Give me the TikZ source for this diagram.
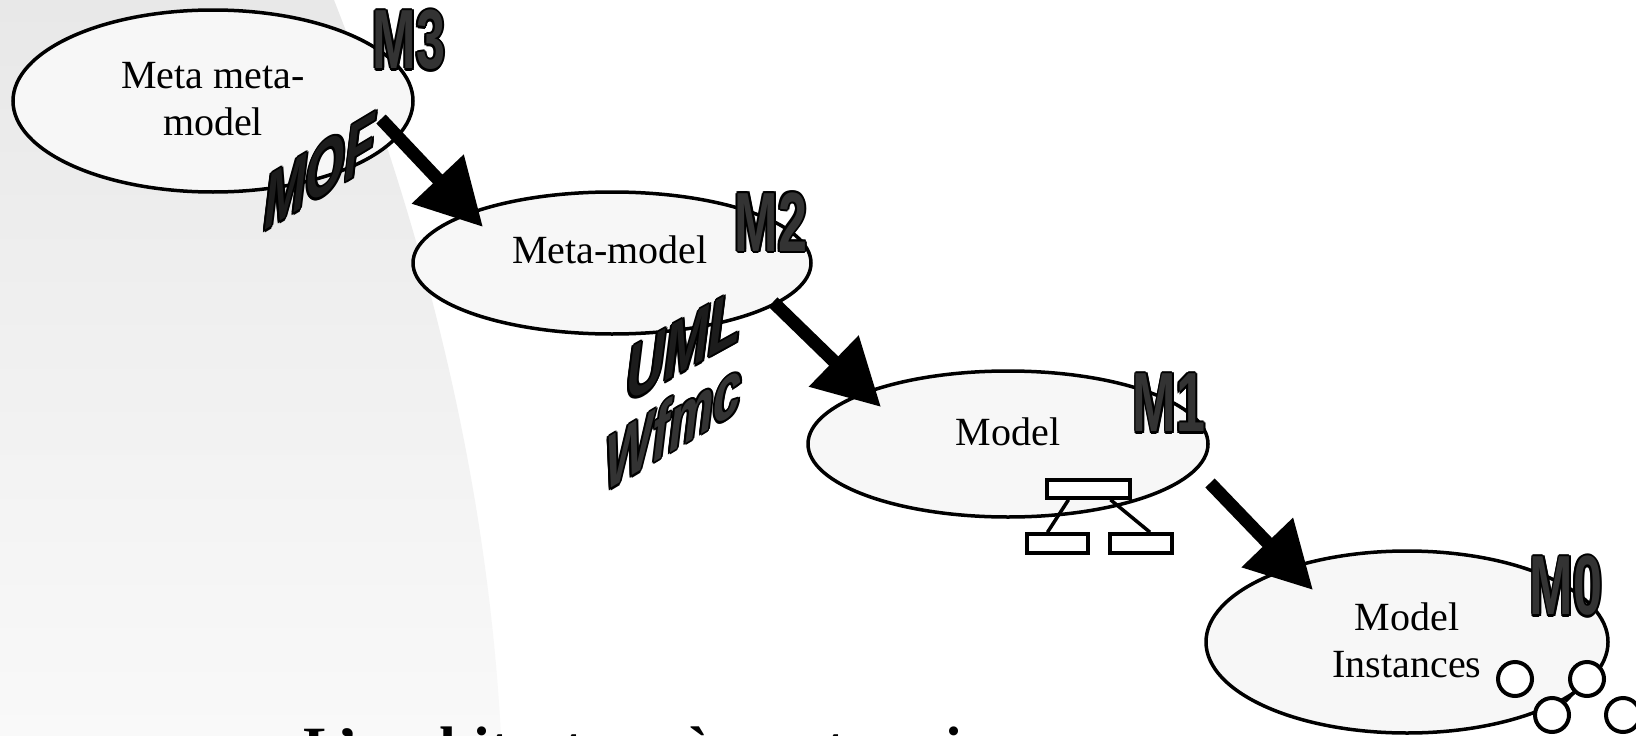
\documentclass[tikz,border=0pt]{standalone}
\usepackage{fontspec}
\setmainfont{Liberation Serif}
\newfontfamily\labelsans{Liberation Sans}
\usetikzlibrary{shapes.geometric,arrows.meta,calc}

\definecolor{ellfill}{HTML}{F7F7F7}
\definecolor{bgtop}{HTML}{E8E8E8}
\definecolor{bgbottom}{HTML}{F9F9F9}
\definecolor{markfill}{HTML}{333333}
\definecolor{darkfill}{HTML}{1C1C1C}

% one shifted copy of a word, taking no width
\newcommand\olay[3]{\makebox[0pt][l]{\hspace*{#1}\raisebox{#2}{#3}}}
% word with a black outline and a coloured body
\newcommand\outlinedword[2]{%
  {\color{black}%
   \olay{3pt}{0pt}{#2}\olay{-3pt}{0pt}{#2}%
   \olay{0pt}{2.2pt}{#2}\olay{0pt}{-2.2pt}{#2}%
   \olay{2.1pt}{1.6pt}{#2}\olay{-2.1pt}{1.6pt}{#2}%
   \olay{2.1pt}{-1.6pt}{#2}\olay{-2.1pt}{-1.6pt}{#2}}%
  \textcolor{#1}{#2}}

\tikzset{
  level/.style={ellipse, draw=black, line width=3.5pt, fill=ellfill, inner sep=0pt},
  caption/.style={font=\fontsize{40}{47}\selectfont, anchor=base, inner sep=0pt},
  levelmark/.style={font=\labelsans\bfseries\fontsize{84}{84}\selectfont, inner sep=0pt, xscale=0.62},
  stdname/.style={font=\labelsans\bfseries\itshape\fontsize{76}{76}\selectfont, inner sep=0pt, anchor=base west},
  bigarrow/.style={line width=13pt, -{Triangle[length=66pt,width=68pt]}},
  classbox/.style={draw, line width=3.5pt, fill=white, inner sep=0pt},
  instance/.style={circle, draw, line width=4pt, fill=white, minimum size=34pt, inner sep=0pt},
  link/.style={line width=3.5pt},
}

\begin{document}
\begin{tikzpicture}[x=1pt, y=-1pt]
  \useasboundingbox (0,0) rectangle (1636,736);
  \clip (0,0) rectangle (1636,736);
  \fill[white] (0,0) rectangle (1636,736);

  % shaded backdrop on the left
  \shade[top color=bgtop, bottom color=bgbottom]
    (0,0) -- (334,0) .. controls (430,245) and (488,491) .. (501,736) -- (0,736) -- cycle;

  % the four levels
  \node[level, minimum width=400pt, minimum height=182pt] (e3) at (213,101) {};
  \node[level, minimum width=398pt, minimum height=142pt] (e2) at (612,263) {};
  \node[level, minimum width=400pt, minimum height=146pt] (e1) at (1008,444) {};
  \node[level, minimum width=402pt, minimum height=182pt] (e0) at (1407,642) {};

  \node[caption] (t3a) at ($(e3.center)+(0,-13)$) {Meta meta-};
  \node[caption] (t3b) at ($(e3.center)+(0,34)$) {model};
  \node[caption] (t2) at ($(e2.center)+(-2,0)$) {Meta-model};
  \node[caption] (t1) at ($(e1.center)+(0,1)$) {Model};
  \node[caption] (t0a) at ($(e0.center)+(0,-12)$) {Model};
  \node[caption] (t0b) at ($(e0.center)+(0,35)$) {Instances};

  % small class diagram inside the model level
  \node[classbox, minimum width=83pt, minimum height=18pt] (ctop) at (1088.5,489) {};
  \node[classbox, minimum width=61pt, minimum height=19pt] (cleft) at (1057.5,543.5) {};
  \node[classbox, minimum width=62pt, minimum height=19pt] (cright) at (1141,543.5) {};
  \draw[link] ($(ctop.south)+(-20,0)$) -- ($(cleft.north)+(-10,0)$);
  \draw[link] ($(ctop.south)+(22,0)$) -- ($(cright.north)+(9,0)$);

  % instances
  \node[instance] (o1) at (1515,679) {};
  \node[instance] (o2) at (1587,679) {};
  \node[instance] (o3) at (1552,715) {};
  \node[instance] (o4) at (1623,715) {};
  \draw[link] (o3) -- (o2);

  % arrows between levels
  \coordinate (a1s) at ($(e3.center)+(168,18)$);
  \coordinate (a1t) at ($(e2.center)+(-129,-36)$);
  \coordinate (a2s) at ($(e2.center)+(161,39)$);
  \coordinate (a2t) at ($(e1.center)+(-127,-37)$);
  \coordinate (a3s) at ($(e1.center)+(202,39)$);
  \coordinate (a3t) at ($(e0.center)+(-94,-52)$);
  \draw[bigarrow] (a1s) -- (a1t);
  \draw[bigarrow] (a2s) -- (a2t);
  \draw[bigarrow] (a3s) -- (a3t);

  % level marks
  \node[levelmark] (m3) at (409,40) {\outlinedword{markfill}{M3}};
  \node[levelmark] (m2) at (771,222) {\outlinedword{markfill}{M2}};
  \node[levelmark] (m1) at (1169,403) {\outlinedword{markfill}{M1}};
  \node[levelmark] (m0) at (1566,586) {\outlinedword{markfill}{M0}};

  % standards
  \node[stdname, yslant=0.6, xscale=0.66] (mof) at (264,231) {\outlinedword{darkfill}{MOF}};
  \node[stdname, yslant=0.55, xscale=0.7] (uml) at (626,403) {\outlinedword{darkfill}{UML}};
  \node[stdname, yslant=0.6, xscale=0.66] (wfmc) at (605,492) {\outlinedword{markfill}{Wfmc}};

  % title, mostly below the frame
  \node[anchor=base west, inner sep=0pt, font=\bfseries\fontsize{60}{60}\selectfont] (title)
    at (303,768) {L’architecture à quatre niveaux};
\end{tikzpicture}
\end{document}
